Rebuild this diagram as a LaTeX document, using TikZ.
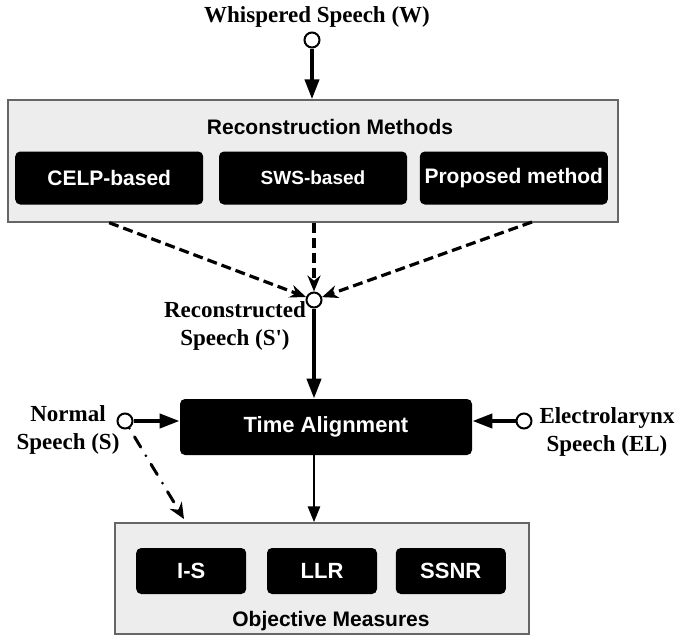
\documentclass[tikz,border=0pt]{standalone}
\usepackage{fontspec}
\setmainfont{Liberation Serif}
\setsansfont{Liberation Sans}
\usetikzlibrary{arrows.meta,positioning}

\begin{document}
\begin{tikzpicture}[x=0.5pt,y=-0.5pt]

\tikzstyle{group} = [rectangle, draw=black!60, fill=black!7, line width=0.7pt, inner sep=0pt]
\tikzstyle{grouptitle} = [inner sep=0pt, font=\sffamily\bfseries\fontsize{10.5}{12}\selectfont]
\tikzstyle{method} = [rectangle, rounded corners=2.5pt, fill=black, text=white, minimum width=94pt, minimum height=26.5pt, inner sep=0pt, font=\sffamily\bfseries\fontsize{10.5}{12}\selectfont]
\tikzstyle{measure} = [method, minimum width=55pt, minimum height=23pt, font=\sffamily\bfseries\fontsize{11}{13}\selectfont]
\tikzstyle{port} = [circle, draw=black, fill=white, line width=1pt, minimum size=7.5pt, inner sep=0pt]
\tikzstyle{labels} = [align=center, inner sep=0pt, font=\bfseries\fontsize{11.5}{14}\selectfont]
\tikzstyle{arrow} = [line width=2pt, -{Triangle[length=10pt,width=7pt]}]
\tikzstyle{thinarrow} = [line width=1.4pt, -{Triangle[length=8pt,width=6pt]}]
\tikzstyle{dasharrow} = [line width=1.6pt, dash pattern=on 5pt off 2.5pt, -{Stealth[length=8pt,width=6.5pt]}]
\tikzstyle{dotarrow} = [line width=1.5pt, line cap=round, dash pattern=on 0pt off 5pt on 6pt off 5pt, -{Stealth[length=8pt,width=7pt]}]

\useasboundingbox (0,0) rectangle (675,637);

%% -- INPUT --
\node (w_lbl)  [labels] at (317,17) {Whispered Speech (W)};
\node (w_port) [port] at (312,40) {};

%% -- RECONSTRUCTION --
\node (rec_box)   [group, minimum width=305pt, minimum height=61pt] at (313,161) {};
\node (rec_title) [grouptitle] at (330,127) {Reconstruction Methods};
\node (sws)  [method, font=\sffamily\bfseries\fontsize{9.5}{11}\selectfont] at (313,178) {SWS-based};
\node (celp) [method, left=7.5pt of sws] {CELP-based};
\node (prop) [method, right=6pt of sws] {Proposed method};

\coordinate (prop_out) at (532,222);
\node (rec_port) [port] at (314,300) {};
\node (rec_lbl)  [labels] at (235,326) {Reconstructed\\Speech (S\textquotesingle)};

%% -- ALIGNMENT --
\node (ta) [method, minimum width=146pt, minimum height=28pt, font=\sffamily\bfseries\fontsize{11}{13}\selectfont] at (326,427) {Time Alignment};
\node (n_port)  [port] at (125,421) {};
\node (n_lbl)   [labels] at (68,430) {Normal\\Speech (S)};
\node (el_port) [port] at (524,421) {};
\node (el_lbl)  [labels] at (607,432) {Electrolarynx\\Speech (EL)};

%% -- MEASURES --
\node (obj_box) [group, minimum width=207pt, minimum height=55.5pt] at (322,578.5) {};
\node (llr)  [measure] at (322,571) {LLR};
\node (is)   [measure, left=10pt of llr] {I-S};
\node (ssnr) [measure, right=9pt of llr] {SSNR};
\node (obj_title) [grouptitle] at (331,621) {Objective Measures};
\coordinate (obj_in) at (184,519);

% connectors
\draw [arrow] (w_port) -- (w_port |- rec_box.north);
\draw [dasharrow] (rec_box.south -| celp) -- (rec_port);
\draw [dasharrow] (rec_box.south -| rec_port) -- (rec_port);
\draw [dasharrow] (prop_out) -- (rec_port);
\draw [arrow] (rec_port) -- (rec_port |- ta.north);
\draw [arrow] (n_port) -- (n_port -| ta.west);
\draw [arrow] (el_port) -- (el_port -| ta.east);
\draw [thinarrow] (ta.south -| rec_port) -- (obj_box.north -| rec_port);
\draw [dotarrow] (n_port) -- (obj_in);

\end{tikzpicture}
\end{document}
